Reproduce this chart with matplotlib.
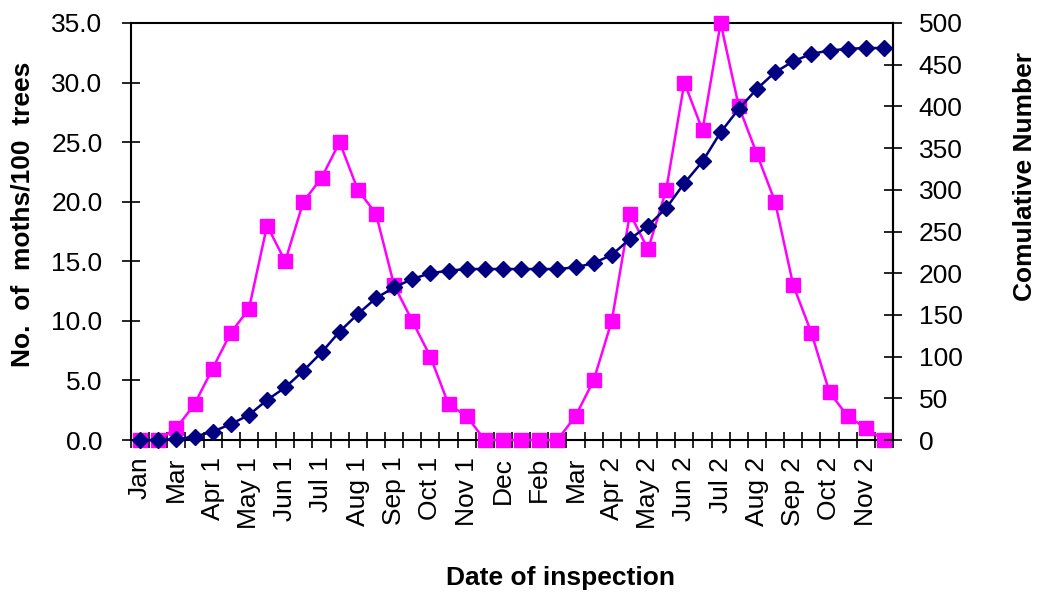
import numpy as np
import matplotlib
matplotlib.use("Agg")
import matplotlib.pyplot as plt

plt.rcParams['font.family'] = ['Liberation Sans', 'DejaVu Sans']

# moths per 100 trees at each inspection (42 inspections)
moths = [0, 0, 1, 3, 6, 9, 11, 18, 15, 20, 22, 25, 21, 19, 13, 10, 7, 3, 2, 0, 0,
         0, 0, 0, 2, 5, 10, 19, 16, 21, 30, 26, 35, 28, 24, 20, 13, 9, 4, 2, 1, 0]
# cumulative number
cumulative = [0, 0, 1, 4, 10, 19, 30, 48, 63, 83, 105, 130, 151, 170, 183, 193, 200, 203, 205, 205, 205,
              205, 205, 205, 207, 212, 222, 241, 257, 278, 308, 334, 369, 397, 421, 441, 454, 463, 467, 469, 470, 470]
tick_labels = ['Jan', 'Mar', 'Apr 1', 'May 1', 'Jun 1', 'Jul 1', 'Aug 1', 'Sep 1', 'Oct 1', 'Nov 1', 'Dec',
               'Feb', 'Mar', 'Apr 2', 'May 2', 'Jun 2', 'Jul 2', 'Aug 2', 'Sep 2', 'Oct 2', 'Nov 2']

x = np.arange(len(moths))

fig = plt.figure(figsize=(10.37, 5.93), dpi=100)
ax1 = fig.add_axes([131/1037, 1-440/593, 762/1037, 417/593])
ax2 = ax1.twinx()

ax1.plot(x, moths, color='#FF00FF', lw=1.8, marker='s', markersize=10.5, clip_on=False, zorder=3)
ax2.plot(x, cumulative, color='#000080', lw=1.8, marker='D', markersize=8, clip_on=False, zorder=3)

ax1.set_xlim(-0.5, len(moths) - 0.5)
ax1.set_ylim(0, 35)
ax2.set_ylim(0, 500)

ax1.set_yticks(np.arange(0, 35.1, 5))
ax1.set_yticklabels([f'{v:.1f}' for v in np.arange(0, 35.1, 5)])
ax2.set_yticks(np.arange(0, 501, 50))

ax1.set_xticks(x[::2])
ax1.set_xticklabels(tick_labels, rotation=90)
ax1.set_xticks(np.arange(-0.5, len(moths)), minor=True)
ax1.tick_params(axis='x', which='major', length=0, pad=12, labelsize=19)
ax1.tick_params(axis='x', which='minor', direction='inout', length=12, width=1.2)
ax1.tick_params(axis='y', direction='inout', length=13, width=1.2, labelsize=19, pad=14)
ax2.tick_params(axis='y', direction='inout', length=13, width=1.2, labelsize=19, pad=12)

for sp in ax1.spines.values():
    sp.set_linewidth(1.5)
for name in ['left', 'top', 'bottom']:
    ax2.spines[name].set_visible(False)
ax2.spines['right'].set_linewidth(1.5)

ax1.set_ylabel('No.  of  moths/100  trees', fontsize=19, fontweight='bold', va='center', ha='center')
ax1.yaxis.set_label_coords(-0.143, 0.542)
ax2.set_ylabel('Comulative Number', fontsize=19, fontweight='bold', va='center', ha='center')
ax2.yaxis.set_label_coords(1.173, 0.633)
ax1.set_xlabel('Date of inspection', fontsize=19, fontweight='bold', va='center', ha='center')
ax1.xaxis.set_label_coords(0.563, -0.331)

fig.savefig('out.png', dpi=100)
